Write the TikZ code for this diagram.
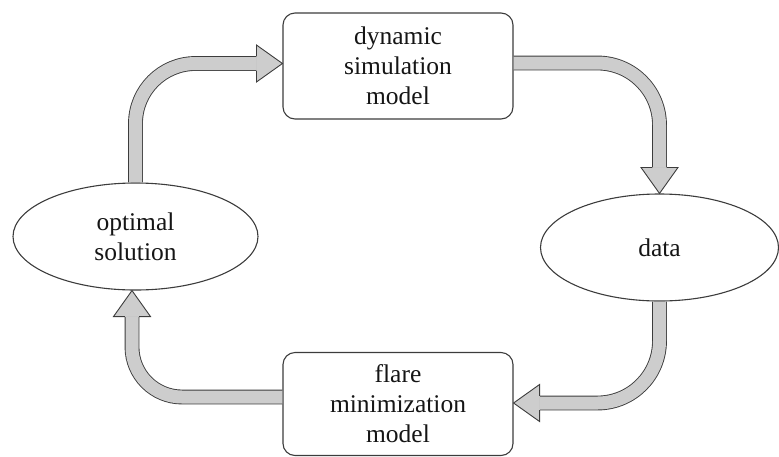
\documentclass[tikz,border=0pt]{standalone}
\usepackage{fontspec}
\setmainfont{Liberation Serif}
\newfontfamily\lblfont{Liberation Serif}
\usetikzlibrary{shapes.geometric}
\definecolor{edge}{HTML}{3C3C3C}
\definecolor{flow}{HTML}{CDCDCD}
\definecolor{ink}{HTML}{151515}
% block arrow head: #1 = tip, #2 = direction (degrees)
\newcommand\flowhead[2]{%
  \begin{scope}[shift={(#1)}, rotate=#2]
    \fill[flow] (0,0) -- (-26,18.5) -- (-26,-18.5) -- cycle;
    \draw[headline] (-26,7.2) -- (-26,18.5) -- (0,0) -- (-26,-18.5) -- (-26,-7.2);
  \end{scope}}
\begin{document}
\begin{tikzpicture}[x=1pt,y=-1pt,
  lbl/.style={font=\lblfont\fontsize{25.5pt}{30pt}\selectfont, text=ink, align=center, inner sep=0pt},
  box/.style={lbl, draw=edge, line width=1.1pt, rounded corners=12pt, minimum width=230pt, minimum height=106pt},
  oval/.style={lbl, ellipse, draw=edge, line width=1.1pt},
  shaft/.style={draw=edge, line width=0.9pt, double=flow, double distance=13pt},
  headline/.style={draw=edge, line width=0.9pt, line join=miter}]
\useasboundingbox (0,0) rectangle (779,456);

\node[box] (dyn) at (398,66) {dynamic\\simulation\\model};
\node[box, minimum height=103pt] (flare) at (398,404) {flare\\minimization\\model};
\node[oval, minimum width=245pt, minimum height=107pt] (opt) at (135.5,236.5) {optimal\\solution};
\node[oval, minimum width=238pt, minimum height=107pt] (data) at (659.5,247.5) {data};

% optimal solution -> dynamic simulation model
\draw[shaft, rounded corners=60pt] (opt.north) |- ([xshift=-26pt, yshift=2.5pt]dyn.west);
\flowhead{[yshift=2.5pt]dyn.west}{0}

% dynamic simulation model -> data
\draw[shaft, rounded corners=62pt] ([yshift=3pt]dyn.east) -| ([yshift=26pt]data.north);
\flowhead{data.north}{-90}

% data -> flare minimization model
\draw[shaft, rounded corners=62pt] (data.south) |- ([xshift=26pt, yshift=1pt]flare.east);
\flowhead{[yshift=1pt]flare.east}{180}

% flare minimization model -> optimal solution
\draw[shaft, rounded corners=50pt] ([yshift=7pt]flare.west) -| ([xshift=-3.5pt, yshift=-26pt]opt.south);
\flowhead{[xshift=-3.5pt]opt.south}{90}
\end{tikzpicture}
\end{document}
